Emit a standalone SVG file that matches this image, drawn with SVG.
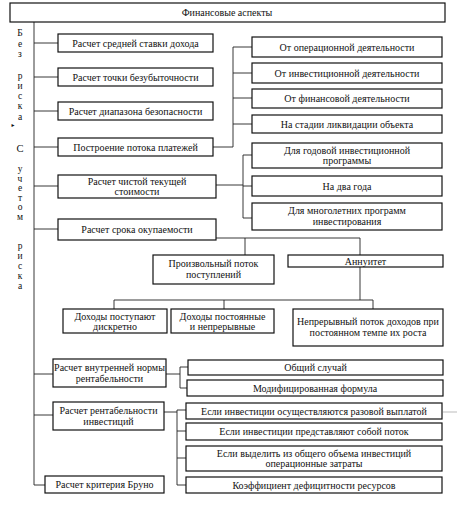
<svg xmlns="http://www.w3.org/2000/svg" width="457" height="509" viewBox="0 0 457 509">
<style>
.b{fill:#fff;stroke:#111;stroke-width:1.2}
.t{font-family:"Liberation Serif","DejaVu Serif",serif;font-size:10px;fill:#111;text-anchor:middle}
.s{font-family:"Liberation Serif","DejaVu Serif",serif;font-size:9.5px;fill:#111;text-anchor:middle}
.c{fill:none;stroke:#222;stroke-width:0.9}
</style>
<rect width="457" height="509" fill="#fff"/>
<g id="side-labels">
<text class="s" x="20" y="36">Б</text><text class="s" x="20" y="47">е</text><text class="s" x="20" y="57">з</text>
<text class="s" x="20" y="79">р</text><text class="s" x="20" y="89">и</text><text class="s" x="20" y="99">с</text><text class="s" x="20" y="109">к</text><text class="s" x="20" y="120">а</text>
<text class="s" x="13" y="127" style="font-size:6px">▸</text>
<text class="s" x="20" y="152" style="font-size:10.5px">С</text>
<text class="s" x="20" y="172">у</text><text class="s" x="20" y="181.5">ч</text><text class="s" x="20" y="191">е</text><text class="s" x="20" y="200.5">т</text><text class="s" x="20" y="210">о</text><text class="s" x="20" y="219.5">м</text>
<text class="s" x="20" y="249">р</text><text class="s" x="20" y="259">и</text><text class="s" x="20" y="269">с</text><text class="s" x="20" y="279">к</text><text class="s" x="20" y="289">а</text>
</g>
<g id="connectors">
<path class="c" d="M34 22V485H45"/>
<path class="c" d="M34 43H58M34 77H58M34 111H58M34 147H58M34 186H58M34 229H58M34 374H53M34 415H53"/>
<path class="c" d="M213 147H233V47H252M233 73H252M233 98H252M233 124H252"/>
<path class="c" d="M216 185H243M243 155V218M243 155H252M243 186H252M243 218H252"/>
<path class="c" d="M216 238H360V255M245 238V255"/>
<path class="c" d="M360 267V300M114 300H373M114 300V309M224 300V309M373 300V309"/>
<path class="c" d="M166 374H180M180 367V388M180 367H188M180 388H187"/>
<path class="c" d="M164 412H177M177 410V485M177 410H186M177 431H186M177 458H186M177 485H186"/>
<path d="M443 412H457" stroke="#bbb" stroke-width="1"/>
</g>
<g id="title"><rect class="b" x="10" y="3" width="435" height="19"/><text class="t" x="227" y="16">Финансовые аспекты</text></g>
<g id="n-avg-rate"><rect class="b" x="58" y="34" width="155" height="18"/><text class="t" x="135.5" y="46.5">Расчет средней ставки дохода</text></g>
<g id="n-breakeven"><rect class="b" x="58" y="68" width="155" height="18"/><text class="t" x="135.5" y="80.5">Расчет точки безубыточности</text></g>
<g id="n-safety"><rect class="b" x="58" y="102" width="155" height="18"/><text class="t" x="135.5" y="114.5">Расчет диапазона безопасности</text></g>
<g id="n-payments"><rect class="b" x="58" y="138" width="155" height="18"/><text class="t" x="135.5" y="150.5">Построение потока платежей</text></g>
<g id="n-npv"><rect class="b" x="58" y="175" width="158" height="23"/><text class="t" x="137" y="184.5">Расчет чистой текущей</text><text class="t" x="137" y="195">стоимости</text></g>
<g id="n-payback"><rect class="b" x="58" y="219" width="158" height="21"/><text class="t" x="137" y="233">Расчет срока окупаемости</text></g>
<g id="n-op"><rect class="b" x="252" y="37" width="190" height="20"/><text class="t" x="347" y="50.5">От операционной деятельности</text></g>
<g id="n-inv"><rect class="b" x="252" y="63" width="190" height="20"/><text class="t" x="347" y="76.5">От инвестиционной деятельности</text></g>
<g id="n-fin"><rect class="b" x="252" y="89" width="190" height="19"/><text class="t" x="347" y="102">От финансовой деятельности</text></g>
<g id="n-liq"><rect class="b" x="252" y="115" width="190" height="18"/><text class="t" x="347" y="127.5">На стадии ликвидации объекта</text></g>
<g id="n-annual"><rect class="b" x="252" y="143" width="190" height="25"/><text class="t" x="347" y="153.5">Для годовой инвестиционной</text><text class="t" x="347" y="164">программы</text></g>
<g id="n-twoyear"><rect class="b" x="252" y="176" width="190" height="20"/><text class="t" x="347" y="189.5">На два года</text></g>
<g id="n-multi"><rect class="b" x="252" y="203" width="190" height="27"/><text class="t" x="347" y="214">Для многолетних программ</text><text class="t" x="347" y="225">инвестирования</text></g>
<g id="n-arbitrary"><rect class="b" x="153" y="255" width="121" height="29"/><text class="t" x="213.5" y="267">Произвольный поток</text><text class="t" x="213.5" y="278">поступлений</text></g>
<g id="n-annuity"><rect class="b" x="288" y="255" width="155" height="12"/><text class="t" x="365.5" y="264.5">Аннуитет</text></g>
<g id="n-discrete"><rect class="b" x="63" y="309" width="104" height="24"/><text class="t" x="115" y="319.5">Доходы поступают</text><text class="t" x="115" y="330">дискретно</text></g>
<g id="n-const"><rect class="b" x="171" y="309" width="103" height="24"/><text class="t" x="222.5" y="319.5">Доходы постоянные</text><text class="t" x="222.5" y="330">и непрерывные</text></g>
<g id="n-growth"><rect class="b" x="293" y="309" width="150" height="37"/><text class="t" x="368" y="325">Непрерывный поток доходов при</text><text class="t" x="368" y="336">постоянном темпе их роста</text></g>
<g id="n-irr"><rect class="b" x="53" y="359" width="113" height="28"/><text class="t" x="109.5" y="371">Расчет внутренней нормы</text><text class="t" x="109.5" y="382">рентабельности</text></g>
<g id="n-general"><rect class="b" x="188" y="360" width="255" height="15"/><text class="t" x="315.5" y="371">Общий случай</text></g>
<g id="n-modified"><rect class="b" x="187" y="380" width="256" height="16"/><text class="t" x="315" y="391.5">Модифицированная формула</text></g>
<g id="n-roi"><rect class="b" x="53" y="402" width="111" height="28"/><text class="t" x="108.5" y="414">Расчет рентабельности</text><text class="t" x="108.5" y="425">инвестиций</text></g>
<g id="n-once"><rect class="b" x="186" y="403" width="256" height="16"/><text class="t" x="314" y="414.5">Если инвестиции осуществляются разовой выплатой</text></g>
<g id="n-flow"><rect class="b" x="186" y="423" width="256" height="17"/><text class="t" x="314" y="435">Если инвестиции представляют собой поток</text></g>
<g id="n-opex"><rect class="b" x="186" y="446" width="256" height="25"/><text class="t" x="314" y="456.5">Если выделить из общего объема инвестиций</text><text class="t" x="314" y="467">операционные затраты</text></g>
<g id="n-deficit"><rect class="b" x="186" y="477" width="256" height="16"/><text class="t" x="314" y="488.5">Коэффициент дефицитности ресурсов</text></g>
<g id="n-bruno"><rect class="b" x="45" y="476" width="119" height="17"/><text class="t" x="104.5" y="488">Расчет критерия Бруно</text></g>
</svg>
